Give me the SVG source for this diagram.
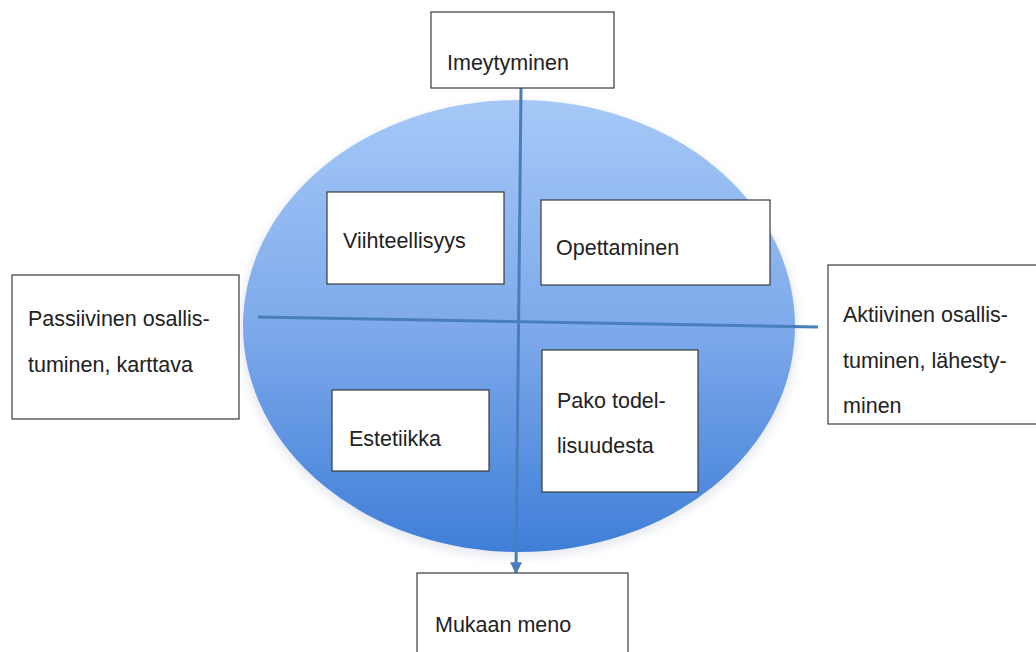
<svg xmlns="http://www.w3.org/2000/svg" width="1036" height="652" viewBox="0 0 1036 652">
  <defs>
    <linearGradient id="ellGrad" x1="0" y1="0" x2="0" y2="1">
      <stop offset="0" stop-color="#a5c8f7"/>
      <stop offset="0.5" stop-color="#7eaaeb"/>
      <stop offset="1" stop-color="#3f7ed8"/>
    </linearGradient>
    <filter id="glow" x="-10%" y="-10%" width="120%" height="120%">
      <feGaussianBlur stdDeviation="4"/>
    </filter>
    <marker id="arrow" viewBox="0 0 10 10" refX="9" refY="5" markerWidth="4" markerHeight="4" orient="auto" markerUnits="strokeWidth">
      <path d="M0,0 L10,5 L0,10 z" fill="#4a7ebb"/>
    </marker>
    <style>
      .box { fill: #ffffff; stroke: #3a3a3a; stroke-width: 1.2; }
      .lbl { font-family: "Liberation Sans", Arial, sans-serif; font-size: 21.5px; fill: #222222; }
      .axis { stroke: #4a7ebb; stroke-width: 3; fill: none; }
    </style>
  </defs>
  <rect width="1036" height="652" fill="#ffffff"/>

  <g id="ellipse">
    <ellipse cx="519" cy="330" rx="279" ry="228" fill="#d8dde6" filter="url(#glow)" opacity="0.6"/>
    <ellipse cx="519" cy="326" rx="276" ry="226" fill="url(#ellGrad)"/>
  </g>

  <g id="connectors">
    <line class="axis" x1="521" y1="88" x2="516" y2="573" marker-end="url(#arrow)"/>
    <line class="axis" x1="258" y1="317" x2="818" y2="327"/>
  </g>

  <g id="imeytyminen">
    <rect class="box" x="431" y="12" width="183" height="76"/>
    <text class="lbl" x="447" y="70">Imeytyminen</text>
  </g>

  <g id="passiivinen">
    <rect class="box" x="12" y="275" width="227" height="144"/>
    <text class="lbl" x="28" y="326">Passiivinen osallis-</text>
    <text class="lbl" x="28" y="372">tuminen, karttava</text>
  </g>

  <g id="aktiivinen">
    <rect class="box" x="828" y="265" width="220" height="159"/>
    <text class="lbl" x="843" y="322">Aktiivinen osallis-</text>
    <text class="lbl" x="843" y="368">tuminen, lähesty-</text>
    <text class="lbl" x="843" y="413">minen</text>
  </g>

  <g id="mukaan">
    <rect class="box" x="417" y="573" width="211" height="90"/>
    <text class="lbl" x="435" y="632">Mukaan meno</text>
  </g>

  <g id="viihteellisyys">
    <rect class="box" x="327" y="192" width="177" height="92"/>
    <text class="lbl" x="343" y="248">Viihteellisyys</text>
  </g>

  <g id="opettaminen">
    <rect class="box" x="541" y="200" width="229" height="85"/>
    <text class="lbl" x="556" y="255">Opettaminen</text>
  </g>

  <g id="estetiikka">
    <rect class="box" x="332" y="390" width="157" height="81"/>
    <text class="lbl" x="349" y="446">Estetiikka</text>
  </g>

  <g id="pako">
    <rect class="box" x="542" y="350" width="156" height="142"/>
    <text class="lbl" x="557" y="408">Pako todel-</text>
    <text class="lbl" x="557" y="453">lisuudesta</text>
  </g>
</svg>
